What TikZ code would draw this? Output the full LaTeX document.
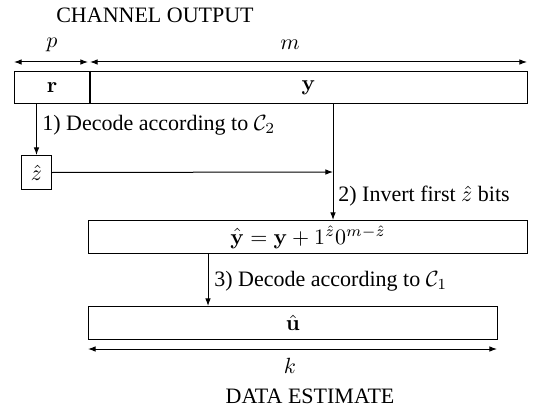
\documentclass[tikz,border=0pt]{standalone}
\usepackage{fix-cm}
\usepackage[no-math]{fontspec}
\setmainfont{Liberation Serif}
\usetikzlibrary{arrows.meta,calc}
\begin{document}
\begin{tikzpicture}[x=0.5pt,y=-0.5pt,
  box/.style={draw, line width=0.5pt, inner sep=0pt, anchor=north west},
  arr/.style={-{Latex[length=3.8pt,width=2.8pt]}, line width=0.5pt},
  dim/.style={{Latex[length=3.8pt,width=2.8pt]}-{Latex[length=3.8pt,width=2.8pt]}, line width=0.5pt},
  lbl/.style={inner sep=0pt, anchor=west},
  font=\rmfamily\fontsize{11}{13}\selectfont]
\useasboundingbox (0,0) rectangle (533,411);
\node (chan) at (155,15) {CHANNEL OUTPUT};
% top boxes
\node[box, minimum width=37.5pt, minimum height=16pt] (r) at (14,71) {$\mathbf{r}$};
\node[box, minimum width=219pt, minimum height=16pt] (y) at (89,71) {$\mathbf{y}$};
\draw[line width=1pt] (r.north east) -- (r.south east);
% dimension arrows
\coordinate (dl) at (14,62);
\coordinate (dm1) at (88,62);
\coordinate (dm2) at (90,62);
\coordinate (dr) at (527,62);
\draw[dim] (dl) -- (dm1);
\draw[dim] (dm2) -- (dr);
\node (p) at (52,45) {$p$};
\node (m) at (290,45) {$m$};
% z hat box
\node[box, minimum width=15pt, minimum height=17pt] (zh) at (21,155) {$\hat{z}$};
\draw[arr] (zh.north |- r.south) -- (zh.north);
\node[lbl] (l1) at (42,125) {1) Decode according to $\mathcal{C}_2$};
% y hat box
\node[box, minimum width=219.5pt, minimum height=16.5pt] (yh) at (88,220) {$\hat{\mathbf{y}} = \mathbf{y} + 1^{\hat{z}}0^{m-\hat{z}}$};
\coordinate (j) at (333,172);
\draw[line width=0.5pt] (y.south -| j) -- (j);
\draw[arr] (zh.east) -- (j);
\draw[arr] (j) -- (j |- yh.north);
\node[lbl] (l2) at (338,196) {2) Invert first $\hat{z}$ bits};
% u hat box
\node[box, minimum width=204.5pt, minimum height=16.5pt] (uh) at (88,306) {$\hat{\mathbf{u}}$};
\coordinate (a3) at (208,280);
\draw[arr] (yh.south -| a3) -- (a3 |- uh.north);
\node[lbl] (l3) at (214,281) {3) Decode according to $\mathcal{C}_1$};
% k dimension
\coordinate (kl) at (88,349);
\coordinate (kr) at (497,349);
\draw[dim] (kl) -- (kr);
\node (k) at (290,366) {$k$};
\node (data) at (310,396) {DATA ESTIMATE};
\end{tikzpicture}
\end{document}
